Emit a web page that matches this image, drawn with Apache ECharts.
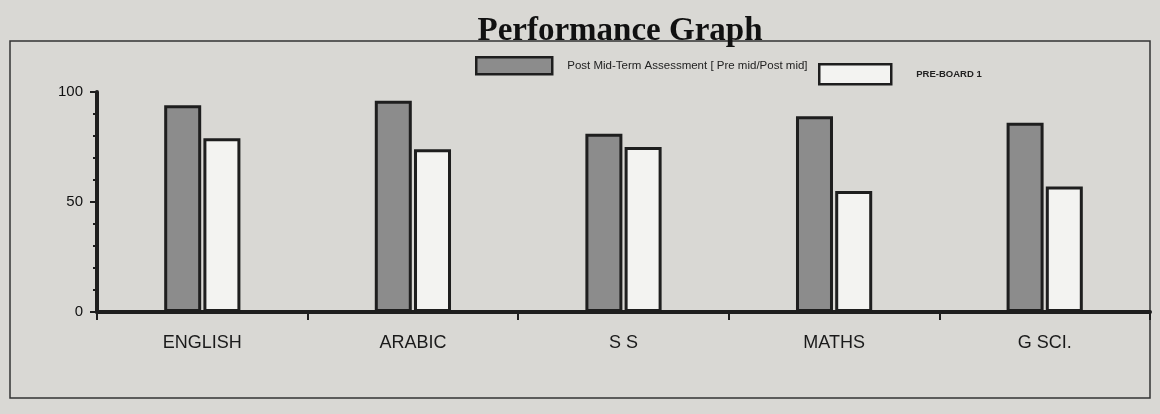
<!DOCTYPE html>
<html>
<head>
<meta charset="utf-8">
<script src="https://cdn.jsdelivr.net/npm/echarts@6/dist/echarts.min.js"></script>
<style>
  html, body { margin: 0; padding: 0; background: #d9d8d4; }
  #chart { width: 1160px; height: 414px; }
</style>
</head>
<body>
<div id="chart"></div>
<script>
// 科目
const subjects = ["ENGLISH", "ARABIC", "S S", "MATHS", "G SCI."];
// 两次考试成绩
const postMidTerm = [94, 96, 81, 89, 86];
const preBoard1 = [79, 74, 75, 55, 57];
const seriesNames = ["Post Mid-Term Assessment [ Pre mid/Post mid]", "PRE-BOARD 1"];

const ink = "#1e1e1e";
const grayFill = "#8c8c8c";
const whiteFill = "#f3f3f1";
const chart = echarts.init(document.getElementById("chart"));

const legendText = { fontFamily: "Liberation Sans", fontSize: 11.5, color: "#222", padding: [0, 0, 0, 10] };

const option = {
  backgroundColor: "#d9d8d4",
  animation: false,
  title: {
    text: "Performance Graph",
    left: 615,
    top: 10,
    textAlign: "center",
    textStyle: { fontFamily: "Liberation Serif", fontSize: 33, fontWeight: "bold", color: "#111" },
  },
  graphic: [
    {
      type: "rect",
      shape: { x: 10, y: 41, width: 1140, height: 357 },
      style: { fill: "none", stroke: "#333", lineWidth: 1.5 },
      silent: true,
    },
  ],
  legend: [
    {
      left: 470,
      top: 51,
      icon: "rect",
      itemWidth: 76,
      itemHeight: 17,
      textStyle: legendText,
      data: [{ name: seriesNames[0], itemStyle: { color: grayFill, borderColor: ink, borderWidth: 2.5 } }],
    },
    {
      left: 813,
      top: 58,
      icon: "rect",
      itemWidth: 72,
      itemHeight: 20,
      textStyle: Object.assign({}, legendText, { fontWeight: "bold", fontSize: 9.5, padding: [0, 0, 0, 20] }),
      data: [{ name: seriesNames[1], itemStyle: { color: whiteFill, borderColor: ink, borderWidth: 2.5 } }],
    },
  ],
  grid: { left: 97, right: 10, top: 92, bottom: 102 },
  xAxis: {
    type: "category",
    data: subjects,
    axisLine: { lineStyle: { color: ink, width: 4 } },
    axisTick: { show: true, length: 8, lineStyle: { color: ink, width: 2 } },
    axisLabel: { fontFamily: "Liberation Sans", fontSize: 18, color: "#1a1a1a", margin: 22 },
  },
  yAxis: {
    type: "value",
    min: 0,
    max: 100,
    interval: 50,
    axisLine: { show: true, lineStyle: { color: ink, width: 4 } },
    axisTick: { show: true, length: 7, lineStyle: { color: ink, width: 2 } },
    minorTick: { show: true, splitNumber: 5, length: 4, lineStyle: { color: ink, width: 2 } },
    splitLine: { show: false },
    axisLabel: { fontFamily: "Liberation Sans", fontSize: 15, color: "#111", margin: 14 },
  },
  series: [
    {
      name: seriesNames[0],
      type: "bar",
      data: postMidTerm,
      barWidth: 37,
      barGap: "6%",
      itemStyle: { color: grayFill, borderColor: ink, borderWidth: 3 },
    },
    {
      name: seriesNames[1],
      type: "bar",
      data: preBoard1,
      barWidth: 37,
      itemStyle: { color: whiteFill, borderColor: ink, borderWidth: 3 },
    },
  ],
};

chart.setOption(option);
</script>
</body>
</html>
